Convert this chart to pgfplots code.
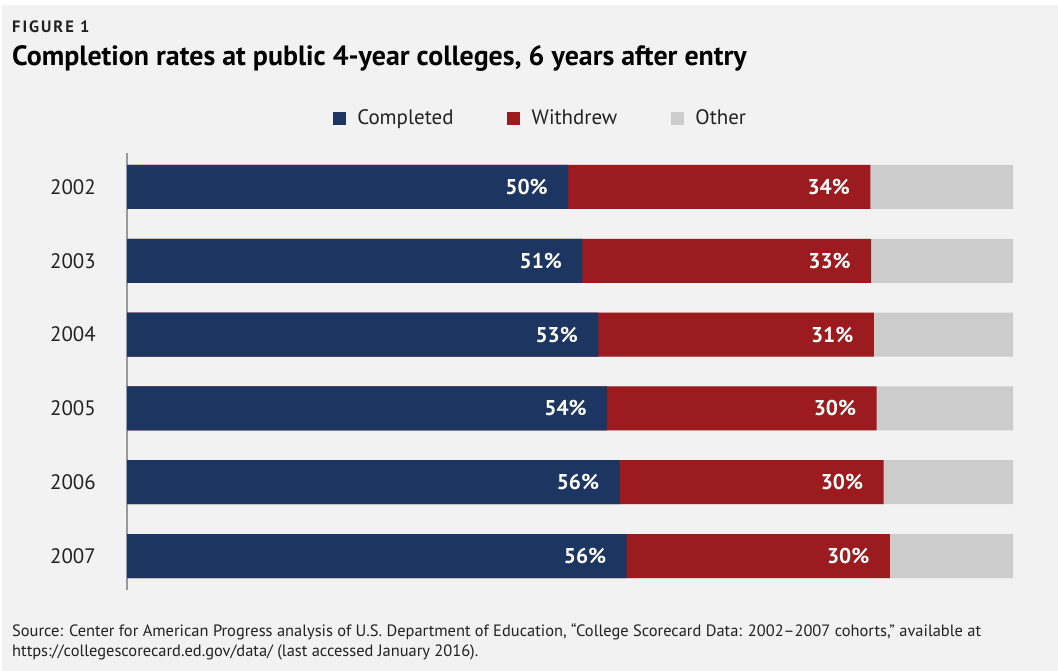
\documentclass[border=0pt]{standalone}
\usepackage{fontspec}
\setmainfont{PT Sans}
\usepackage{pgfplots}
\pgfplotsset{compat=1.18}
\usepackage{pgfplotstable}
\definecolor{bg}{HTML}{F2F2F2}
\definecolor{navy}{HTML}{1C3561}
\definecolor{wred}{HTML}{9B1B1F}
\definecolor{ogray}{HTML}{CCCCCC}
\definecolor{axgray}{HTML}{999999}
\definecolor{txt}{HTML}{222222}
% c = completed, cw = completed + withdrew (cumulative), t = total
\pgfplotstableread{
y c cw t cl wl
0 49.8 83.9 100 50 34
1 51.4 84.0 100 51 33
2 53.2 84.3 100 53 31
3 54.2 84.6 100 54 30
4 55.6 85.4 100 56 30
5 56.4 86.1 100 56 30
}\data
\begin{document}
\begin{tikzpicture}
\fill[white] (0bp,0bp) rectangle (1058bp,671bp);
\fill[bg] (2bp,0bp) rectangle (1058bp,666bp);
\node[anchor=base west, inner sep=0pt, text=txt, font=\bfseries\fontsize{16.5}{16.5}\selectfont\addfontfeatures{LetterSpace=12}] at (12bp,638bp) {FIGURE 1};
\node[anchor=base west, inner sep=0pt, text=black, font=\bfseries\fontsize{28}{28}\selectfont] at (12bp,605bp) {Completion rates at public 4-year colleges, 6 years after entry};
\node[anchor=base west, inner sep=0pt, text=txt, font=\fontsize{16.5}{16.5}\selectfont] at (12bp,35bp) {Source: Center for American Progress analysis of U.S. Department of Education, ``College Scorecard Data: 2002--2007 cohorts,'' available at};
\node[anchor=base west, inner sep=0pt, text=txt, font=\fontsize{16.5}{16.5}\selectfont] at (12bp,15bp) {https://collegescorecard.ed.gov/data/ (last accessed January 2016).};
\begin{axis}[
  at={(127bp,81bp)}, anchor=south west,
  scale only axis, width=886bp, height=437bp,
  xbar, bar width=44bp, bar shift=0pt,
  xmin=0, xmax=100,
  ymin=-0.46, ymax=5.46, y dir=reverse,
  axis x line=none,
  axis y line*=left,
  y axis line style={axgray, line width=1.2bp, -},
  ytick={0,1,2,3,4,5},
  yticklabels={2002,2003,2004,2005,2006,2007},
  major tick length=0pt,
  yticklabel style={inner sep=0pt, anchor=east, xshift=-31bp, text=txt, font=\fontsize{21}{21}\selectfont},
  legend style={at={(0.229,1.08)}, anchor=west, draw=none, fill=none,
    font=\fontsize{21}{21}\selectfont, text=txt,
    /tikz/every even column/.append style={column sep=52bp}},
  legend columns=3,
  legend cell align=left,
  every node near coord/.append style={anchor=east, xshift=-17bp, text=white, font=\bfseries\fontsize{21.5}{21.5}\selectfont},
]
\addlegendimage{legend image code/.code={\fill[navy] (0bp,-6bp) rectangle (12bp,6bp); \path[draw=none,fill=none] (0bp,0bp) -- (22bp,0bp);}}
\addlegendentry{Completed}
\addlegendimage{legend image code/.code={\fill[wred] (0bp,-6bp) rectangle (12bp,6bp); \path[draw=none,fill=none] (0bp,0bp) -- (22bp,0bp);}}
\addlegendentry{Withdrew}
\addlegendimage{legend image code/.code={\fill[ogray] (0bp,-6bp) rectangle (12bp,6bp); \path[draw=none,fill=none] (0bp,0bp) -- (22bp,0bp);}}
\addlegendentry{Other}
\addplot[forget plot, fill=ogray, draw=none] table[x=t, y=y] {\data};
\addplot[forget plot, fill=wred, draw=none, point meta=explicit symbolic,
  nodes near coords={\pgfplotspointmeta\%}]
  table[x=cw, y=y, meta=wl] {\data};
\addplot[forget plot, fill=navy, draw=none, point meta=explicit symbolic,
  nodes near coords={\pgfplotspointmeta\%}]
  table[x=c, y=y, meta=cl] {\data};
\end{axis}
\end{tikzpicture}
\end{document}
